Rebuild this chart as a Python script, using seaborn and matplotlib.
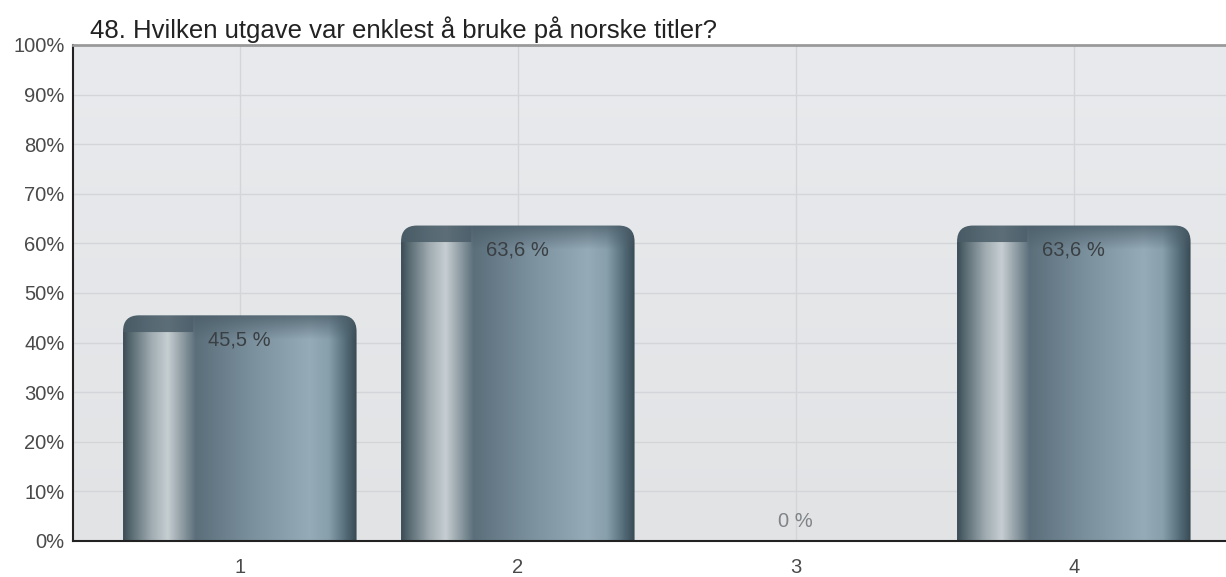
"""
Survey result chart: question 48, share of answers per edition.
"""
import numpy as np
import pandas as pd
import matplotlib
matplotlib.use("Agg")
import matplotlib.pyplot as plt
import seaborn as sns
from matplotlib.patches import FancyBboxPatch
from matplotlib.colors import to_rgb

# Data
categories = ["1", "2", "3", "4"]
percent = [45.5, 63.6, 0.0, 63.6]
title = "48. Hvilken utgave var enklest å bruke på norske titler?"
y_ticks = list(range(0, 101, 10))
y_tick_labels = [f"{t}%" for t in y_ticks]

sns.set_theme(style="white")
plt.rcParams["font.family"] = ["Liberation Sans", "DejaVu Sans"]

fig = plt.figure(figsize=(12.26, 5.77), dpi=100)
ax = fig.add_axes([73 / 1226, 36 / 577, 1 - 73 / 1226, (541 - 45) / 577])

df = pd.DataFrame({"kategori": categories, "prosent": percent})
sns.barplot(data=df, x="kategori", y="prosent", color="#6c8290", width=0.84,
            ax=ax, errorbar=None, zorder=2)

x_lo, x_hi = -0.6, (1226 - 73) / 278 - 0.6
ax.set_xlim(x_lo, x_hi)
ax.set_ylim(0, 100)

# Background: soft vertical gradient
bg = np.linspace(0, 1, 200)[:, None]
top_c, bot_c = np.array(to_rgb("#e8eaed")), np.array(to_rgb("#e2e3e5"))
bg_img = top_c * (1 - bg[..., None]) + bot_c * bg[..., None]
bg_img = np.repeat(bg_img, 2, axis=1)
ax.imshow(bg_img, extent=(0, 1, 0, 1), transform=ax.transAxes,
          aspect="auto", zorder=-1, origin="upper")

# Horizontal colour profile of the glossy bars
stops = [(0.00, "#3c4d57"), (0.03, "#56686f"), (0.12, "#a0acb2"),
         (0.19, "#c6ced2"), (0.24, "#9aa6ac"), (0.31, "#5b6f7b"),
         (0.55, "#7a909c"), (0.80, "#95abb7"), (0.88, "#88a0ac"),
         (0.95, "#566f7b"), (1.00, "#394b55")]
pos = np.array([s[0] for s in stops])
cols = np.array([to_rgb(s[1]) for s in stops])

ax_w_px = ax.get_position().width * fig.get_figwidth() * fig.dpi
ax_h_px = ax.get_position().height * fig.get_figheight() * fig.dpi
px_x = ax_w_px / (x_hi - x_lo)   # pixels per category unit
px_y = ax_h_px / 100.0           # pixels per percent
radius_px = 16
cap_col = np.array(to_rgb("#4a5d68"))

for patch in list(ax.patches):
    h = patch.get_height()
    x0, w = patch.get_x(), patch.get_width()
    patch.set_visible(False)
    if h <= 0:
        continue
    ncols = int(w * px_x)
    nrows = max(int(h * px_y), 2)
    u = np.linspace(0, 1, ncols)
    row = np.stack([np.interp(u, pos, cols[:, k]) for k in range(3)], axis=1)
    img = np.repeat(row[None, :, :], nrows, axis=0)
    # darker cap at the top of each bar
    depth = np.arange(nrows)[:, None]
    left = (u < 0.30)[None, :]
    f_left = np.where(depth < 17, 0.85, 0.0)
    f_right = np.clip(0.75 * (1 - depth / 24.0), 0, None)
    f = np.where(left, f_left, f_right)[..., None]
    img = img * (1 - f) + cap_col * f

    shape = FancyBboxPatch((x0, -10), w, h + 10,
                           boxstyle=f"round,pad=0,rounding_size={radius_px / px_x}",
                           mutation_aspect=px_x / px_y,
                           transform=ax.transData, facecolor="none",
                           edgecolor="none")
    ax.add_patch(shape)
    im = ax.imshow(img, extent=(x0, x0 + w, 0, h), aspect="auto",
                   origin="upper", zorder=2, interpolation="bilinear")
    im.set_clip_path(shape)

ax.set_xlim(x_lo, x_hi)
ax.set_ylim(0, 100)

# Value labels with decimal comma
for i, v in enumerate(percent):
    txt = f"{v:.1f}".replace(".", ",") + " %" if v else "0 %"
    y = v - 5 if v > 5 else v + 4
    ax.text(i, y, txt, ha="center", va="center", fontsize=14.5,
            color="#3a3f44" if v else "#808487", zorder=4)

# Grid, spines, ticks
ax.set_axisbelow(True)
ax.grid(True, axis="both", color="#d3d5d8", linewidth=1.0)
ax.set_yticks(y_ticks)
ax.set_yticklabels(y_tick_labels)
ax.tick_params(axis="both", direction="out", length=5, width=1.3,
               color="#222222", labelsize=14.5, labelcolor="#4a4a4a", pad=1)
ax.tick_params(axis="x", pad=7)
for side in ("left", "bottom"):
    ax.spines[side].set_color("#222222")
    ax.spines[side].set_linewidth(1.5)
ax.spines["top"].set_color("#9a9a9a")
ax.spines["top"].set_linewidth(2)
ax.spines["right"].set_visible(False)
ax.set_xlabel("")
ax.set_ylabel("")

fig.text(90 / 1226, 1 - 30 / 577, title, fontsize=18.5, color="#222222",
         ha="left", va="center")

fig.savefig("out.png", dpi=100)
